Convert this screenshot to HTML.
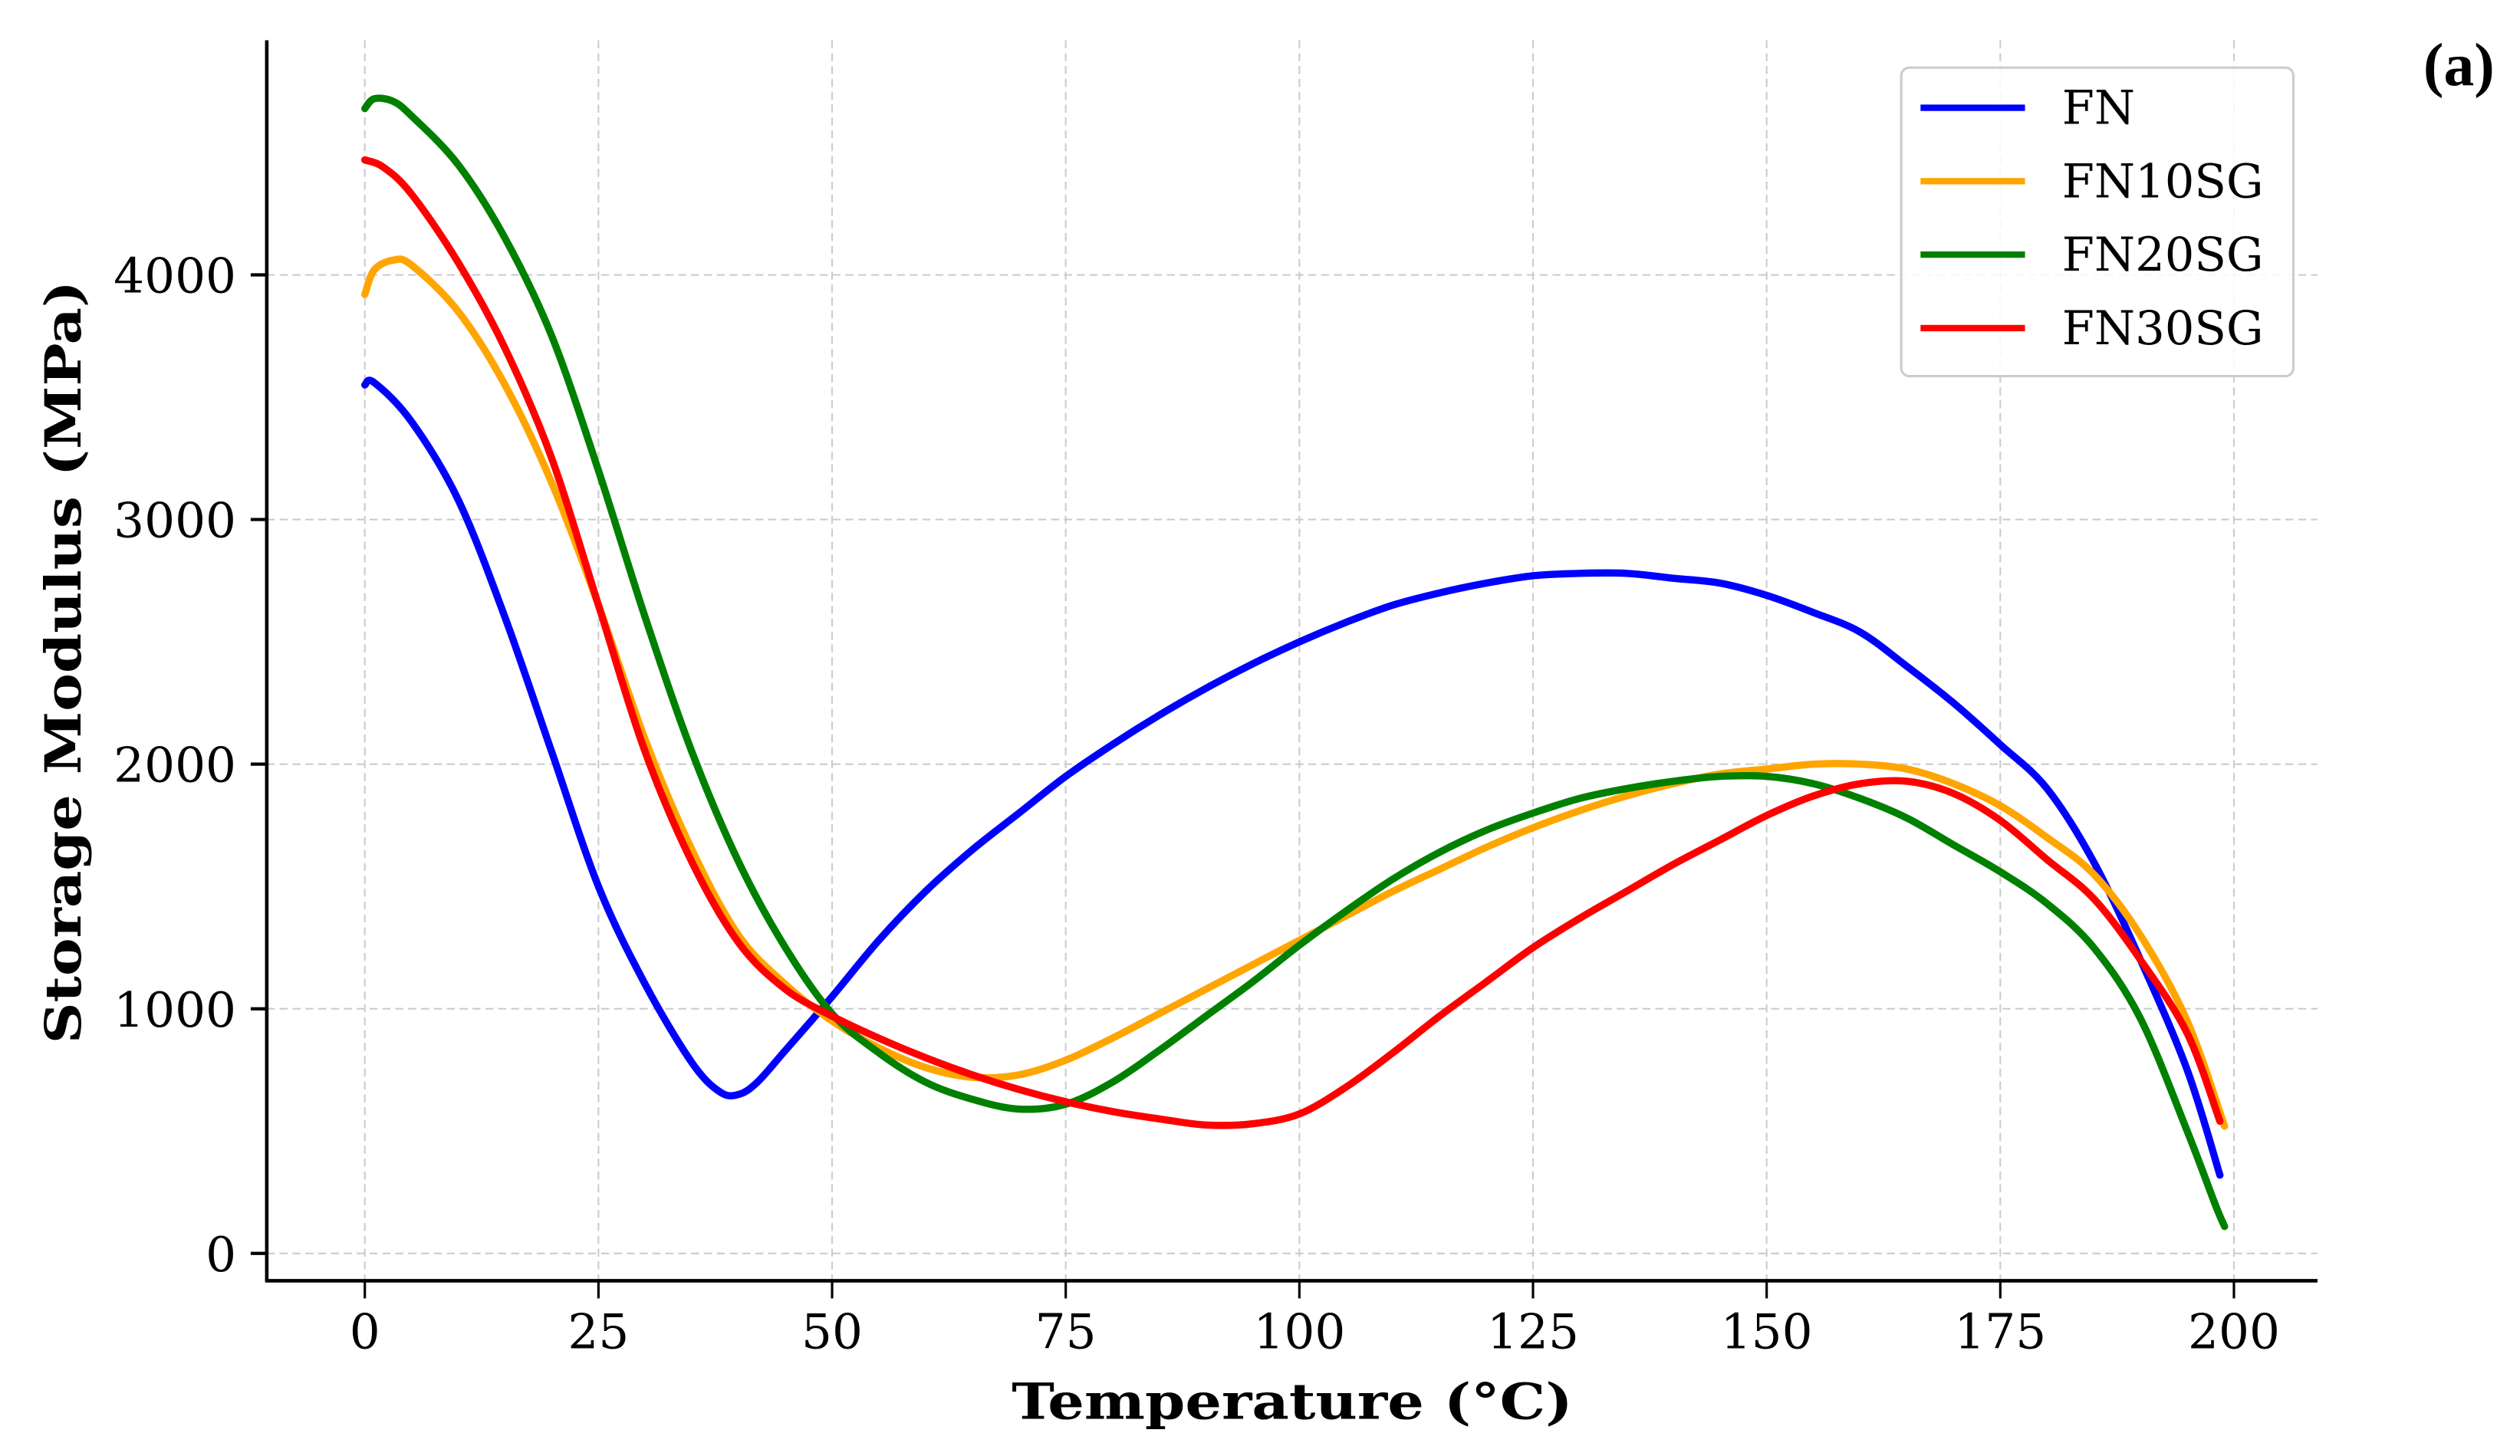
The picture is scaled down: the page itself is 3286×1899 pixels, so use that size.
<!DOCTYPE html>
<html><head><meta charset="utf-8"><style>
html,body{margin:0;padding:0;background:#fff;}
svg{display:block;font-family:"DejaVu Serif","Liberation Serif",serif;}
</style></head><body>
<svg id="chart" width="3286" height="1899" viewBox="0 0 1568 906" xmlns="http://www.w3.org/2000/svg">
<rect width="1568" height="906" fill="#fff"/>
<g id="grid"></g>
<g id="series"></g>
<line x1="166" y1="25" x2="166" y2="797.5" stroke="#000" stroke-width="2.2"/>
<line x1="165" y1="797" x2="1442" y2="797" stroke="#000" stroke-width="2.2"/>
<g id="ticks"></g>
<text x="804" y="883" text-anchor="middle" font-size="31" font-weight="bold" textLength="349" lengthAdjust="spacingAndGlyphs">Temperature (°C)</text>
<text transform="translate(50,412) rotate(-90)" text-anchor="middle" font-size="31" font-weight="bold" textLength="475" lengthAdjust="spacingAndGlyphs">Storage Modulus (MPa)</text>
<text x="1530" y="53" text-anchor="middle" font-size="38" font-weight="bold" font-family="Liberation Serif, serif">(a)</text>
<g>
<rect x="1183" y="42" width="244" height="192" rx="5" fill="#fff" fill-opacity="0.85" stroke="#ccc" stroke-width="1.5"/>
<g id="legend-entries"></g>
</g>
</svg>
<script>
const xTicks=[0,25,50,75,100,125,150,175,200];
const yTicks=[0,1000,2000,3000,4000];
const seriesNames=["FN","FN10SG","FN20SG","FN30SG"];
const seriesColors=["#0000ff","#ffa500","#008000","#ff0000"];
const fnT=[0,1,5,10,15,20,25,30,35,38,40,42,45,50,55,60,65,70,75,80,85,90,95,100,105,110,115,120,125,130,135,140,145,150,155,160,165,170,175,180,185,190,195,198.5];
const fnV=[3550,3560,3400,3080,2600,2050,1500,1100,780,660,650,700,830,1050,1280,1480,1650,1800,1950,2080,2200,2310,2410,2500,2580,2650,2700,2740,2770,2780,2780,2760,2740,2690,2620,2540,2400,2250,2080,1900,1600,1200,750,320];
const fn10T=[0,1,3,5,10,15,20,25,30,35,40,45,50,55,60,65,70,75,80,85,90,95,100,105,110,115,120,125,130,135,140,145,150,155,160,165,170,175,180,185,190,195,199];
const fn10V=[3920,4020,4060,4040,3850,3550,3150,2650,2100,1650,1300,1100,950,840,760,720,730,790,880,980,1080,1180,1280,1380,1480,1570,1660,1740,1810,1870,1920,1960,1980,2000,2000,1980,1920,1830,1700,1550,1300,950,520];
const fn20T=[0,1,3,5,10,15,20,25,30,35,40,45,50,55,60,65,70,75,80,85,90,95,100,105,110,115,120,125,130,135,140,145,150,155,160,165,170,175,180,185,190,195,198,199];
const fn20V=[4680,4720,4710,4650,4450,4150,3750,3200,2600,2050,1600,1250,980,820,700,630,590,610,700,830,970,1110,1260,1400,1530,1640,1730,1800,1860,1900,1930,1950,1950,1920,1860,1780,1670,1560,1430,1250,960,500,200,110];
const fn30T=[0,2,5,10,15,20,25,30,35,40,45,50,55,60,65,70,75,80,85,90,95,100,105,110,115,120,125,130,135,140,145,150,155,160,165,170,175,180,185,190,195,198.5];
const fn30V=[4470,4440,4330,4050,3700,3250,2650,2050,1600,1270,1080,970,880,800,730,670,620,580,550,525,530,570,680,820,970,1110,1250,1370,1480,1590,1690,1790,1870,1920,1930,1880,1770,1610,1450,1200,900,540];

const xs=v=>227+v*(1390-227)/200;
const ys=v=>780-v*(780-171)/4000;
const NS="http://www.w3.org/2000/svg";
function mk(tag,attrs,parent){const e=document.createElementNS(NS,tag);for(const k in attrs)e.setAttribute(k,attrs[k]);parent.appendChild(e);return e;}
function smooth(pts){
  let d='M'+pts[0][0].toFixed(2)+','+pts[0][1].toFixed(2);
  for(let i=0;i<pts.length-1;i++){
    const p0=pts[Math.max(0,i-1)],p1=pts[i],p2=pts[i+1],p3=pts[Math.min(pts.length-1,i+2)];
    const c1=[p1[0]+(p2[0]-p0[0])/6,p1[1]+(p2[1]-p0[1])/6];
    const c2=[p2[0]-(p3[0]-p1[0])/6,p2[1]-(p3[1]-p1[1])/6];
    d+='C'+c1[0].toFixed(2)+','+c1[1].toFixed(2)+' '+c2[0].toFixed(2)+','+c2[1].toFixed(2)+' '+p2[0].toFixed(2)+','+p2[1].toFixed(2);
  }
  return d;
}
const grid=document.getElementById('grid'),ticks=document.getElementById('ticks'),ser=document.getElementById('series'),leg=document.getElementById('legend-entries');
xTicks.forEach(t=>{
  const g=mk('line',{x1:xs(t),x2:xs(t),y1:25,y2:797,stroke:'#ccc','stroke-width':1,'stroke-dasharray':'5,3'},grid);
  
  
  const tk=mk('line',{x1:xs(t),x2:xs(t),y1:797,y2:808,stroke:'#000','stroke-width':1.5},ticks);
  
  
  const lb=mk('text',{x:xs(t),y:839,'text-anchor':'middle','font-size':30},ticks);
  lb.textContent=t;
  
  
});
yTicks.forEach(t=>{
  const g=mk('line',{x1:166,x2:1442,y1:ys(t),y2:ys(t),stroke:'#ccc','stroke-width':1,'stroke-dasharray':'5,3'},grid);
  
  
  const tk=mk('line',{x1:156,x2:166,y1:ys(t),y2:ys(t),stroke:'#000','stroke-width':2},ticks);
  
  
  const lb=mk('text',{x:147,y:ys(t)+11,'text-anchor':'end','font-size':30},ticks);
  lb.textContent=t;
  
  
});
const allT=[fnT,fn10T,fn20T,fn30T],allV=[fnV,fn10V,fn20V,fn30V];
for(let i=0;i<4;i++){
  const pts=allT[i].map((t,j)=>[xs(t),ys(allV[i][j])]);
  const p=mk('path',{d:smooth(pts),fill:'none',stroke:seriesColors[i],'stroke-width':4.5,'stroke-linejoin':'round','stroke-linecap':'round'},ser);
  
  
  const y=67+i*45.7;
  const ll=mk('line',{x1:1195,x2:1260,y1:y,y2:y,stroke:seriesColors[i],'stroke-width':4},leg);
  
  
  const lt=mk('text',{x:1283,y:y+10,'font-size':29},leg);
  lt.textContent=seriesNames[i];
  
  
}
</script>
</body></html>
